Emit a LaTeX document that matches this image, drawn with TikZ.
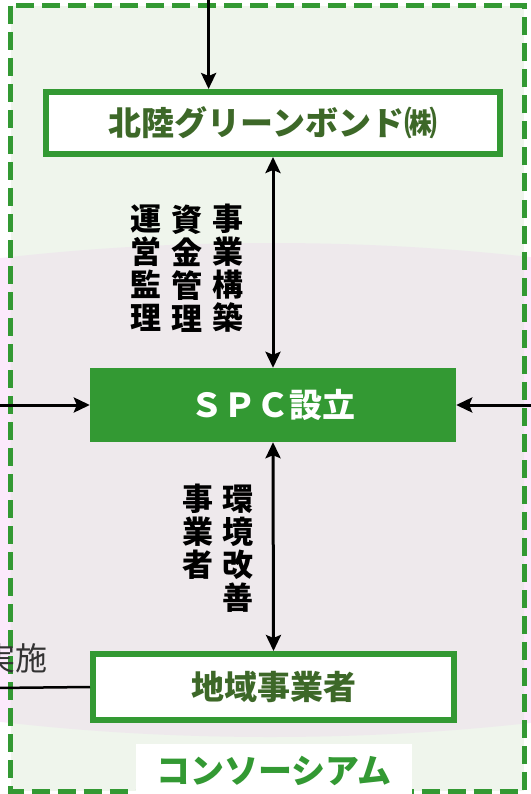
\documentclass[tikz,border=0pt]{standalone}
\usepackage{fontspec}
\newfontfamily\jp{Noto Sans CJK JP}
\usetikzlibrary{arrows.meta}
\definecolor{grn}{HTML}{339933}
\definecolor{dgrn}{HTML}{3D6828}
\definecolor{bgg}{HTML}{EFF5EC}
\definecolor{pinkin}{HTML}{EEE9EC}
\definecolor{pinkout}{HTML}{FCE9FC}
\definecolor{gtext}{HTML}{333333}
\begin{document}
\begin{tikzpicture}[x=1pt,y=-1pt,font=\jp,
  box/.style={draw=grn,line width=6pt,fill=white,inner sep=0pt,text=dgrn,
    font=\jp\bfseries\fontsize{33}{33}\selectfont},
  arr/.style={line width=3pt,-{Stealth[length=16pt,width=15pt,inset=3pt]}},
  darr/.style={line width=3pt,{Stealth[length=16pt,width=15pt,inset=3pt]}-{Stealth[length=16pt,width=15pt,inset=3pt]}},
  vtext/.style={font=\jp\bfseries\fontsize{31}{33}\selectfont,align=center,inner sep=0pt,text=black}
]
\useasboundingbox (0,0) rectangle (530,794);
\fill[white] (0,0) rectangle (530,794);
\fill[pinkout] (270,490) ellipse [x radius=780, y radius=247];
\fill[bgg] (10.5,6) rectangle (524,791);
\begin{scope}
  \clip (10.5,6) rectangle (524,791);
  \fill[pinkin] (270,490) ellipse [x radius=780, y radius=247];
\end{scope}
\draw[grn,line width=5pt,dash pattern=on 18pt off 8pt] (10.5,6) rectangle (524,791);

\node[box,minimum width=454pt,minimum height=62pt] (hgb) at (273,123) {北陸グリーンボンド㈱};
\node[fill=grn,minimum width=366pt,minimum height=74pt,inner sep=0pt,text=white,
  font=\jp\bfseries\fontsize{33}{33}\selectfont] (spc) at (273,405) {ＳＰＣ設立};
\node[box,minimum width=361pt,minimum height=66pt] (chiiki) at (273.5,687) {地域事業者};
\node[fill=white,minimum width=276pt,minimum height=54pt,inner sep=0pt,text=grn,
  font=\jp\bfseries\fontsize{34}{34}\selectfont] (cons) at (274,771) {コンソーシアム};

\node[text=gtext,font=\jp\fontsize{32}{32}\selectfont,anchor=west,inner sep=0pt] (jisshi) at (-17,658) {実施};

\node[vtext] (v1) at (146,268.5) {運\\営\\監\\理};
\node[vtext] (v2) at (186.5,268.5) {資\\金\\管\\理};
\node[vtext] (v3) at (228,268.5) {事\\業\\構\\築};
\node[vtext] (v4) at (197.5,532) {事\\業\\者};
\node[vtext] (v5) at (237.5,548.5) {環\\境\\改\\善};

\coordinate (topin) at (208.6,-5);
\coordinate (lin) at (-5,405);
\coordinate (rin) at (535,405);
\coordinate (lline) at (-5,688);
\draw[arr] (topin) -- (topin |- hgb.north);
\draw[darr] (hgb.south) -- (spc.north);
\draw[darr] (spc.south) -- (chiiki.north);
\draw[arr] (lin) -- (spc.west);
\draw[arr] (rin) -- (spc.east);
\draw[line width=2.5pt] (lline) -- (chiiki.west);
\end{tikzpicture}
\end{document}
